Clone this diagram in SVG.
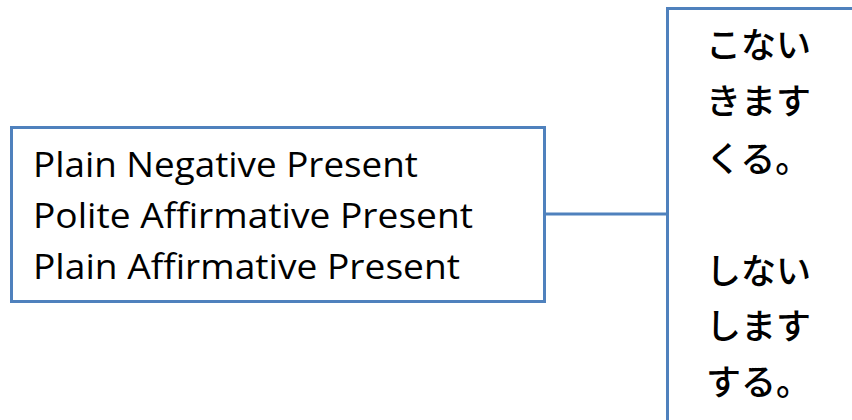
<svg xmlns="http://www.w3.org/2000/svg" width="852" height="420" viewBox="0 0 852 420">
<style>
.box{fill:#fff;stroke:#4F81BD;stroke-width:3}
.en{font-family:"Open Sans","Liberation Sans",sans-serif;font-size:34px;fill:#000}
.jp{font-family:"Noto Sans CJK JP",sans-serif;font-size:35px;fill:#000;font-weight:500}
.conn{stroke:#4F81BD;stroke-width:3;fill:none}
</style>
<rect width="852" height="420" fill="#fff"/>
<g id="connectors">
<line class="conn" x1="544" y1="214" x2="667" y2="214"/>
</g>
<g id="node-english">
<rect class="box" x="11.5" y="127.5" width="533" height="174"/>
<text class="en" x="33" y="177" textLength="385" lengthAdjust="spacingAndGlyphs">Plain Negative Present</text>
<text class="en" x="33" y="228" textLength="440" lengthAdjust="spacingAndGlyphs">Polite Affirmative Present</text>
<text class="en" x="33" y="279" textLength="427" lengthAdjust="spacingAndGlyphs">Plain Affirmative Present</text>
</g>
<g id="node-japanese">
<rect class="box" x="667.5" y="8.5" width="200" height="430"/>
<text class="jp" x="706" y="58">こない</text>
<text class="jp" x="706" y="114">きます</text>
<text class="jp" x="706" y="172">くる。</text>
<text class="jp" x="706" y="284">しない</text>
<text class="jp" x="706" y="339">します</text>
<text class="jp" x="706" y="395">する。</text>
</g>
</svg>
